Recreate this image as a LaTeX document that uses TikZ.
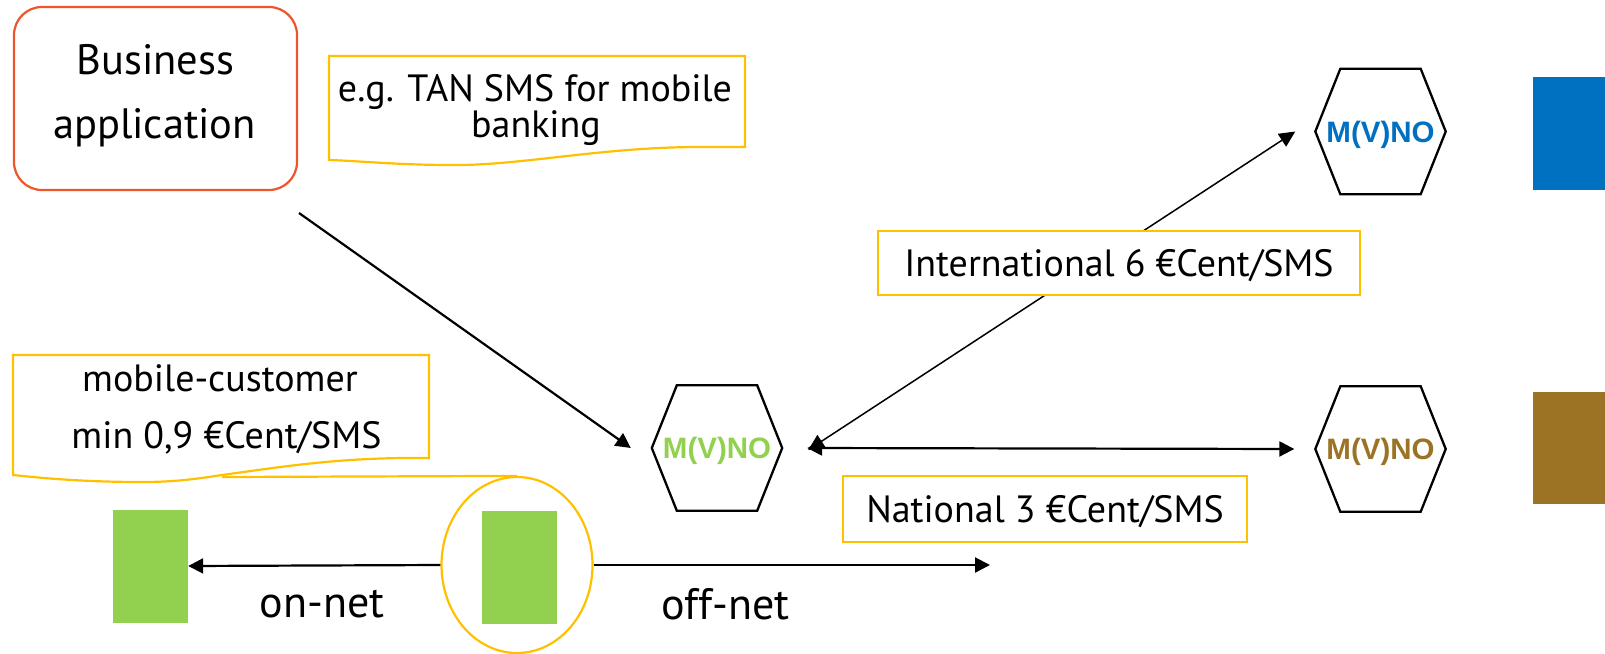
\documentclass[tikz,border=0pt]{standalone}
\usepackage{fontspec}
\setmainfont{PT Sans}
\newfontfamily\hexfont{Liberation Sans}
\usetikzlibrary{arrows.meta,shapes.geometric}
\definecolor{bizred}{RGB}{237,85,45}
\definecolor{callyel}{RGB}{255,192,0}
\definecolor{mgreen}{RGB}{146,208,80}
\definecolor{mblue}{RGB}{0,112,192}
\definecolor{mbrown}{RGB}{156,115,37}
\newcommand{\hexnode}[4]{%
  \node[hexbox, text=#4] (#1) at (#2,#3) {M(V)NO};
  \draw[hexline] (#1.west) -- ([xshift=25pt]#1.north west) -- ([xshift=-25pt]#1.north east) -- (#1.east) -- ([xshift=-25pt]#1.south east) -- ([xshift=25pt]#1.south west) -- cycle;
}
\begin{document}
\begin{tikzpicture}[x=1pt,y=-1pt,
  bigtxt/.style={font=\fontsize{42.5}{50}\selectfont, inner sep=0pt},
  lbl/.style={font=\fontsize{38}{44}\selectfont, inner sep=0pt},
  netlbl/.style={font=\fontsize{44}{50}\selectfont, inner sep=0pt},
  callout/.style={draw=callyel, line width=2.2pt},
  labelbox/.style={draw=callyel, line width=2.2pt, fill=white, inner sep=0pt,
     font=\fontsize{38}{44}\selectfont, text height=26.5pt, text depth=0pt},
  hexbox/.style={minimum width=130pt, minimum height=125pt, inner sep=0pt,
     font=\hexfont\bfseries\fontsize{29.5}{29.5}\selectfont, text height=21pt, text depth=0pt},
  hexline/.style={draw=black, line width=2.3pt, line join=miter},
  phone/.style={fill=mgreen, minimum width=75pt, minimum height=113pt, inner sep=0pt},
  arr/.style={line width=2.2pt, -{Triangle[length=15pt,width=15pt]}},
  darr/.style={line width=2.2pt, {Triangle[length=15pt,width=15pt]}-{Triangle[length=15pt,width=15pt]}},
  thinarr/.style={line width=1.5pt, {Triangle[length=16pt,width=15pt]}-{Triangle[length=16pt,width=15pt]}}
]
\useasboundingbox (0,0) rectangle (1605,653);

% Business application
\node[draw=bizred, line width=2.2pt, rounded corners=28pt, minimum width=283pt, minimum height=183pt, inner sep=0pt] (biz) at (155.5,98.5) {};
\node[bigtxt, anchor=base] (biz1) at (155.5,74) {Business};
\node[bigtxt, anchor=base] (biz2) at (154.5,138) {application};

% TAN callout
\draw[callout] (329,56) -- (745,56) -- (745,147) -- (700,147) .. controls (600,147) and (520,166) .. (450,165) .. controls (400,165) and (360,161) .. (329,160) -- cycle;
\node[lbl, anchor=base] (tan1) at (535,101) {e.g. TAN SMS for mobile};
\node[lbl, anchor=base] (tan2) at (536,137) {banking};

% hexagons
\hexnode{ghex}{717}{448}{mgreen}
\hexnode{blhex}{1380.5}{131.5}{mblue}
\hexnode{brhex}{1380.5}{449}{mbrown}

% operator colour blocks
\node[fill=mblue, minimum width=72pt, minimum height=113pt, inner sep=0pt] (blblock) at (1569,133.5) {};
\node[fill=mbrown, minimum width=72pt, minimum height=112pt, inner sep=0pt] (brblock) at (1569,448) {};

% business -> operator
\coordinate (bizout) at (299,213);
\draw[arr] (bizout) -- ([xshift=-21pt]ghex.west);

% operator links
\draw[thinarr] ([xshift=26pt,yshift=-2pt]ghex.east) -- ([xshift=-20pt]blhex.west);
\draw[darr] ([xshift=25pt]ghex.east) -- ([xshift=-21pt]brhex.west);

\node[labelbox, minimum width=482pt, minimum height=64pt] (intl) at (1119,263) {International 6 €Cent/SMS};
\node[labelbox, minimum width=404pt, minimum height=66pt] (natl) at (1045,509) {National 3 €Cent/SMS};

% mobile customer
\node[draw=callyel, line width=2.2pt, ellipse, minimum width=151pt, minimum height=176pt, inner sep=0pt] (ell) at (517,565) {};
\node[phone] (lphone) at (150.5,566) {};
\node[phone] (rphone) at (519.5,567) {};

\draw[callout] (13,355) -- (429,355) -- (429,458) -- (402,458) .. controls (330,459) and (280,467) .. (222,475) .. controls (190,480) and (170,482) .. (142,482) .. controls (90,482) and (50,479) .. (13,475) -- cycle;
\coordinate (mcptr) at (222,477);
\draw[callout] (mcptr) -- (ell.north);
\node[lbl, anchor=base] (mc1) at (220,391) {mobile-customer};
\node[lbl, anchor=base] (mc2) at (226.5,448) {min 0,9 €Cent/SMS};

\draw[arr] (ell.west) -- (lphone.east);
\coordinate (offend) at (990,565);
\draw[arr] (ell.east) -- (offend);

\node[netlbl, anchor=base] (onnet) at (322,617) {on-net};
\node[netlbl, anchor=base] (offnet) at (725.5,619) {off-net};
\end{tikzpicture}
\end{document}
